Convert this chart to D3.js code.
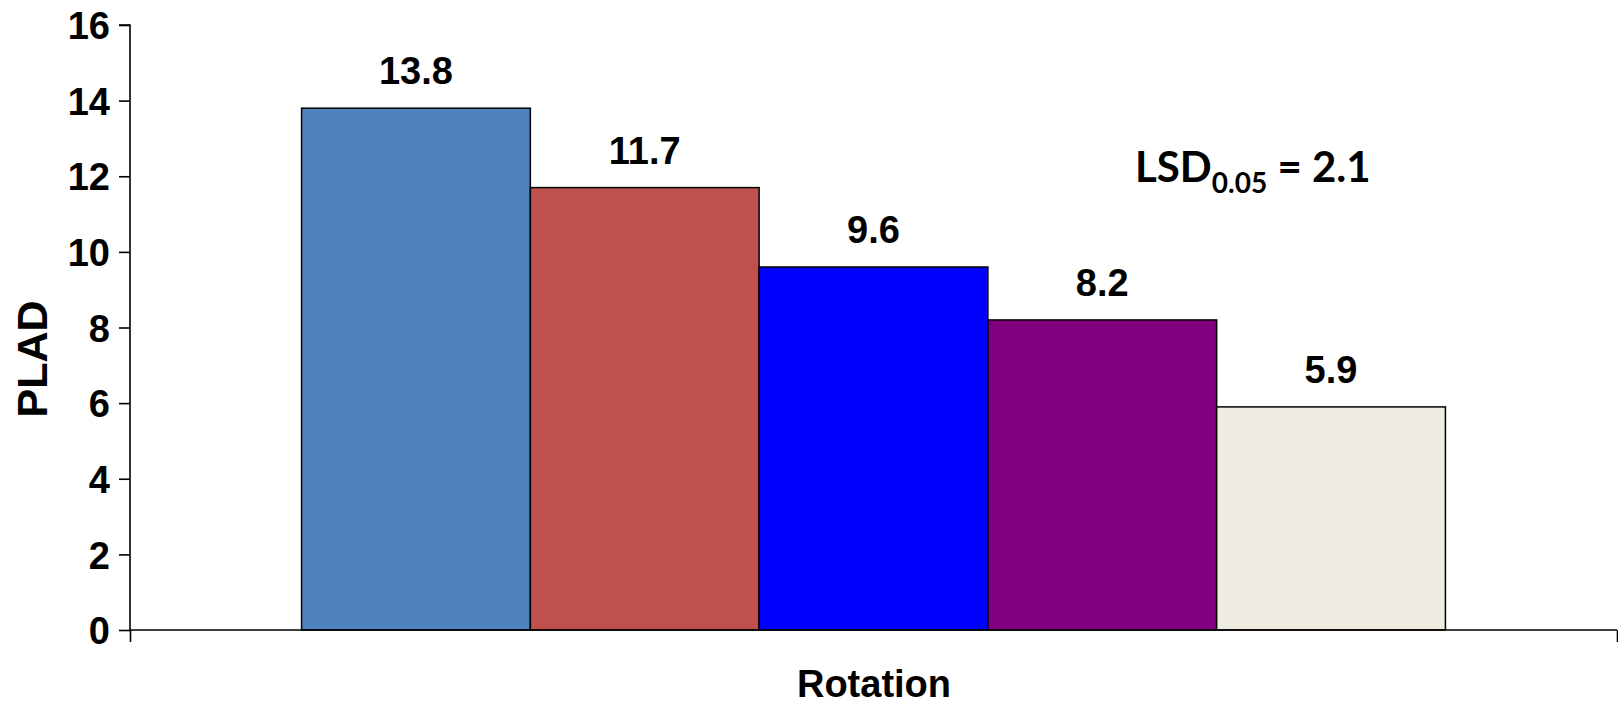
<!DOCTYPE html>
<html>
<head>
<meta charset="utf-8">
<script src="https://cdn.jsdelivr.net/npm/d3@7"></script>
<style>
  html, body { margin: 0; padding: 0; background: #fff; }
  svg { display: block; }
  text { font-family: "Liberation Sans", Arial, sans-serif; font-weight: bold; fill: #000; }
</style>
</head>
<body>
<svg id="chart" width="1618" height="704"></svg>
<script>
// ---- data ----
const categories = ["Rotation"];
const seriesNames = ["Rotation 1", "Rotation 2", "Rotation 3", "Rotation 4", "Rotation 5"];
const seriesValues = [13.8, 11.7, 9.6, 8.2, 5.9];
const seriesColors = ["#4F81BD", "#C0504D", "#0000FF", "#800080", "#EEECE1"];
const yTicks = [0, 2, 4, 6, 8, 10, 12, 14, 16];
const yLabel = "PLAD";
const xLabel = "Rotation";
const lsdMain = "LSD";
const lsdSub = "0.05";
const lsdValue = " = 2.1";

// ---- layout ----
const mLeft = 130, mRight = 1617, mTop = 25, mBottom = 630;

const svg = d3.select("#chart");

const y = d3.scaleLinear().domain([0, 16]).range([mBottom, mTop]);
const x0 = d3.scaleBand().domain(categories).range([mLeft, mRight]).padding(0);
const x1 = d3.scaleBand().domain(seriesNames).range([0, x0.bandwidth()])
  .paddingInner(0).paddingOuter(0.75);

const data = seriesNames.map((s, i) => ({ cat: categories[0], name: s, value: seriesValues[i], color: seriesColors[i] }));

// bars
svg.append("g").selectAll("rect").data(data).join("rect")
  .attr("x", d => x0(d.cat) + x1(d.name))
  .attr("y", d => y(d.value))
  .attr("width", x1.bandwidth())
  .attr("height", d => y(0) - y(d.value))
  .attr("fill", d => d.color)
  .attr("stroke", "#000")
  .attr("stroke-width", 1.5);

// value labels
svg.append("g").selectAll("text").data(data).join("text")
  .attr("x", d => x0(d.cat) + x1(d.name) + x1.bandwidth() / 2)
  .attr("y", d => y(d.value) - 24)
  .attr("text-anchor", "middle")
  .style("font-size", "38px")
  .text(d => d.value.toFixed(1));

// y axis
const yAxis = d3.axisLeft(y).tickValues(yTicks).tickSize(11).tickPadding(9).tickFormat(d3.format("d"));
const gy = svg.append("g").attr("transform", `translate(${mLeft},0)`).call(yAxis);
gy.select(".domain").attr("stroke", "#000").attr("stroke-width", 1.6).attr("d", `M-11,${mTop}H0V${mBottom}`);
gy.selectAll(".tick line").attr("stroke", "#000").attr("stroke-width", 1.6);
gy.selectAll(".tick text").style("font-size", "38px").style("font-family", '"Liberation Sans", Arial, sans-serif').style("font-weight", "bold").attr("dy", "0.36em");

// x axis (category boundaries as ticks)
const xEdge = d3.scaleLinear().domain([0, 1]).range([mLeft, mRight]);
const xAxis = d3.axisBottom(xEdge).tickValues([0, 1]).tickSize(12).tickFormat("");
const gx = svg.append("g").attr("transform", `translate(0,${mBottom})`).call(xAxis);
gx.select(".domain").attr("stroke", "#000").attr("stroke-width", 1.6).attr("d", `M${mLeft},0H${mRight}`);
gx.selectAll(".tick line").attr("stroke", "#000").attr("stroke-width", 1.6);

// axis titles
svg.append("text")
  .attr("transform", `translate(47,359) rotate(-90)`)
  .attr("text-anchor", "middle")
  .style("font-size", "43px")
  .text(yLabel);

svg.append("text")
  .attr("x", 874).attr("y", 697)
  .attr("text-anchor", "middle")
  .style("font-size", "38px")
  .text(xLabel);

// LSD annotation
const lsd = svg.append("text")
  .attr("x", 1135).attr("y", 182)
  .style("font-family", "Lato, Carlito, Calibri, sans-serif")
  .style("font-size", "42px");
lsd.append("tspan").text(lsdMain);
lsd.append("tspan").attr("dy", 11).style("font-size", "28px").text(lsdSub);
lsd.append("tspan").attr("dy", -11).text(lsdValue);
</script>
</body>
</html>
